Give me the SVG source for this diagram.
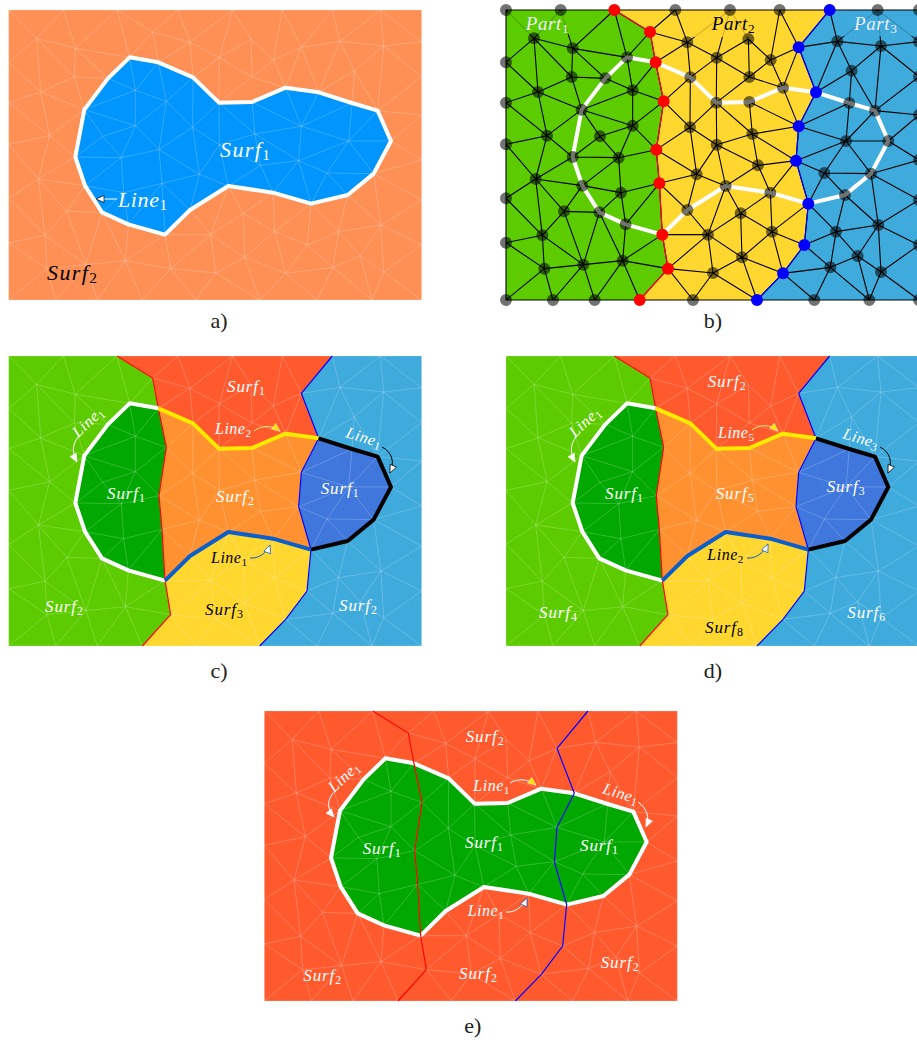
<svg xmlns="http://www.w3.org/2000/svg" width="917" height="1040" viewBox="0 0 917 1040">
<style>
.lm{fill:none;stroke:#fff;stroke-opacity:.28;stroke-width:2.2}
.bm{fill:none;stroke:#000;stroke-width:3.3}
.cgreen{fill:#5ccc00}.cyellow{fill:#ffd72e}.cblue{fill:#3faadc}.cred{fill:#ff5a2e}.corange{fill:#ff9130}.cdk{fill:#00a800}.croyal{fill:#3f77dd}
.il{fill:none;stroke-linejoin:round;stroke-width:12}
.pr{fill:none;stroke:#f00;stroke-width:3.6}
.pb{fill:none;stroke:#00f;stroke-width:3.6}
.gn{fill:none;stroke:#000;stroke-opacity:.55;stroke-width:36;stroke-linecap:round}
.rn{fill:none;stroke:#f00;stroke-width:36;stroke-linecap:round}
.bn{fill:none;stroke:#00f;stroke-width:36;stroke-linecap:round}
text{font-family:"Liberation Serif","DejaVu Serif",serif;font-style:italic}
.big{font-size:22px;letter-spacing:1.4px}.bigl{font-size:22px;letter-spacing:.6px}
.pt{font-size:19px;letter-spacing:.6px}
.s{font-size:17px;letter-spacing:.9px}
.l{font-size:16px;letter-spacing:.5px}
.w{fill:#fff}.wd{fill:#eef}.k{fill:#000}
.sb{font-style:normal;font-size:.7em;letter-spacing:0}
.cap{font-style:normal;font-size:22px;fill:#222;text-anchor:middle}
.ar{fill:none;stroke-width:1}
</style>
<defs>
<marker id="hW" markerUnits="userSpaceOnUse" markerWidth="10" markerHeight="8" refX="8" refY="3.5" orient="auto" overflow="visible"><path d="M0 0L8 3.5L0 7Z" fill="#fff" stroke="#fff" stroke-width=".6"/></marker>
<marker id="hK" markerUnits="userSpaceOnUse" markerWidth="10" markerHeight="8" refX="8" refY="3.5" orient="auto" overflow="visible"><path d="M0 0L8 3.5L0 7Z" fill="#fff" stroke="#000" stroke-width=".7"/></marker>
<marker id="hB" markerUnits="userSpaceOnUse" markerWidth="10" markerHeight="8" refX="8" refY="3.5" orient="auto" overflow="visible"><path d="M0 0L8 3.5L0 7Z" fill="#fff" stroke="#0a5fcc" stroke-width=".7"/></marker>
<marker id="hY" markerUnits="userSpaceOnUse" markerWidth="10" markerHeight="8" refX="8" refY="3.5" orient="auto" overflow="visible"><path d="M0 0L8 3.5L0 7Z" fill="#ffe600" stroke="#fff" stroke-width=".4"/></marker>
<path id="mesh" d="M33 30H1272V900H33ZM117 115L33 30M117 115L197 30M117 115L33 187M117 115L129 276M117 115L233 145M117 115L230 231
M233 145L197 30M233 145L358 30M233 145L396 172M233 145L230 231M233 145L331 235
M396 172L358 30M396 172L465 96M396 172L482 187M396 172L331 235M396 172L413 271
M465 96L358 30M465 96L541 30M465 96L482 187M465 96L577 127
M482 187L577 127M482 187L413 271M482 187L586 232M482 187L506 304
M577 127L541 30M577 127L705 30M577 127L586 232M577 127L665 173
M665 173L705 30M665 173L586 232M665 173L664 308M665 173L760 117M665 173L763 231
M760 117L705 30M760 117L763 231M760 117L827 180
M827 180L854 30M827 180L763 231M827 180L911 142M827 180L864 263
M911 142L854 30M911 142L1004 30M911 142L864 263M911 142L963 277M911 142L1027 124
M1027 124L1004 30M1027 124L1148 30M1027 124L1158 138M1027 124L963 277M1027 124L1070 212
M1158 138L1148 30M1158 138L1070 212M1158 138L1140 332M1158 138L1272 125M1158 138L1272 230M1148 30L1272 125
M230 231L129 276M230 231L331 235M230 231L260 329
M331 235L413 271M331 235L260 329
M129 276L33 187M129 276L33 308M129 276L260 329M129 276L156 407
M413 271L260 329M413 271L506 304M413 271L413 377
M586 232L506 304M586 232L664 308M586 232L585 382
M763 231L664 308M763 231L864 263
M864 263L763 306M864 263L963 277M864 263L911 379
M963 277L1070 212M963 277L1063 309M963 277L911 379
M1070 212L1063 309M1070 212L1140 332
M260 329L413 377M260 329L315 409M260 329L233 471M260 329L156 407
M506 304L413 377M506 304L484 449M506 304L585 382
M664 308L763 306M664 308L585 382M664 308L665 434M664 308L772 402
M763 306L772 402M763 306L911 379
M1063 309L1140 332M1063 309L911 379M1063 309L1053 423
M1140 332L1180 423M1140 332L1053 423M1140 332L1272 230M1140 332L1272 345
M413 377L315 409M413 377L484 449M413 377L371 473
M585 382L484 449M585 382L665 434M585 382L605 523
M156 407L33 308M156 407L33 433M156 407L233 471M156 407L122 537
M315 409L233 471M315 409L371 473
M772 402L665 434M772 402L911 379M772 402L789 496M772 402L903 482
M911 379L903 482M911 379L1053 423
M1180 423L1053 423M1180 423L1128 521M1180 423L1272 345M1180 423L1272 480
M1053 423L903 482M1053 423L988 519M1053 423L1128 521
M484 449L371 473M484 449L493 550M484 449L605 523
M665 434L605 523M665 434L692 558M665 434L789 496
M233 471L371 473M233 471L122 537M233 471L262 557
M371 473L262 557M371 473L378 578
M903 482L789 496M903 482L826 578M903 482L988 519M903 482L940 611
M789 496L692 558M789 496L826 578
M122 537L33 433M122 537L33 595M122 537L262 557M122 537L207 634M122 537L142 706
M262 557L378 578M262 557L207 634M262 557L313 637
M378 578L493 550M378 578L313 637M378 578L392 673
M493 550L605 523M493 550L577 630M493 550L392 673M493 550L502 704
M605 523L692 558M605 523L577 630
M692 558L826 578M692 558L577 630M692 558L737 640M692 558L639 704
M988 519L940 611M988 519L1050 585M988 519L1128 521
M1128 521L1050 585M1128 521L1150 675M1128 521L1272 480M1128 521L1272 600
M826 578L940 611M826 578L737 640M826 578L831 695
M940 611L1050 585M940 611L1023 695M940 611L831 695M940 611L928 735
M1050 585L1023 695M1050 585L1150 675
M207 634L313 637M207 634L142 706M207 634L265 794
M313 637L392 673M313 637L265 794M313 637L383 782
M392 673L502 704M392 673L383 782
M577 630L502 704M577 630L639 704
M737 640L639 704M737 640L831 695M737 640L741 772
M1023 695L1150 675M1023 695L928 735M1023 695L1006 802M1023 695L1088 768
M1150 675L1088 768M1150 675L1158 816M1150 675L1272 600M1150 675L1272 735
M142 706L33 595M142 706L33 728M142 706L265 794M142 706L148 806
M502 704L639 704M502 704L383 782M502 704L519 806
M639 704L519 806M639 704L741 772M639 704L654 819
M831 695L928 735M831 695L741 772M831 695L864 820
M928 735L864 820M928 735L1006 802
M1088 768L1006 802M1088 768L1158 816M1088 768L1123 900
M741 772L654 819M741 772L864 820M741 772L786 900
M383 782L265 794M383 782L519 806M383 782L299 900M383 782L434 900
M265 794L148 806M265 794L174 900M265 794L299 900
M148 806L33 728M148 806L33 900M148 806L174 900
M519 806L654 819M519 806L434 900M519 806L594 900
M654 819L594 900M654 819L786 900
M864 820L1006 802M864 820L786 900M864 820L958 900
M1006 802L958 900M1006 802L1123 900
M1158 816L1123 900M1158 816L1272 735M1158 816L1272 900"/>
<polygon id="blob" points="396 172 482 187 586 232 664 308 763 306 864 263 963 277 1063 309 1140 332 1180 423 1128 521 1050 585 940 611 826 578 692 558 577 630 502 704 392 673 313 637 262 557 233 471 260 329 331 235"/>
<polyline id="redl" points="358 30 465 96 482 187 506 304 484 449 493 550 502 704 519 806 434 900"/>
<polyline id="bluel" points="1004 30 911 142 963 277 911 379 903 482 940 611 928 735 864 820 786 900"/>
<polygon id="pGreen" points="33 30 358 30 465 96 482 187 506 304 484 449 493 550 502 704 519 806 434 900 33 900"/>
<polygon id="pBlue" points="1004 30 911 142 963 277 911 379 903 482 940 611 928 735 864 820 786 900 1272 900 1272 30"/>
<g id="split">
<use href="#pGreen" class="cgreen"/>
<use href="#pBlue" class="cblue"/>
<polygon class="cyellow" points="502 704 577 630 692 558 826 578 940 611 928 735 864 820 786 900 434 900 519 806"/>
<polygon class="cred" points="358 30 1004 30 911 142 963 277 864 263 763 306 664 308 586 232 482 187 465 96"/>
<polygon class="corange" points="482 187 586 232 664 308 763 306 864 263 963 277 911 379 903 482 940 611 826 578 692 558 577 630 502 704 493 550 484 449 506 304"/>
<polygon class="cdk" points="396 172 482 187 506 304 484 449 493 550 502 704 392 673 313 637 262 557 233 471 260 329 331 235"/>
<polygon class="croyal" points="963 277 1063 309 1140 332 1180 423 1128 521 1050 585 940 611 903 482 911 379"/>
<use href="#mesh" class="lm"/>
<use href="#redl" class="pr"/>
<use href="#bluel" class="pb"/>
<polyline class="il" stroke="#fff" points="482 187 396 172 331 235 260 329 233 471 262 557 313 637 392 673 502 704"/>
<polyline class="il" stroke="#ffea00" points="482 187 586 232 664 308 763 306 864 263 963 277"/>
<polyline class="il" stroke="#000" points="963 277 1063 309 1140 332 1180 423 1128 521 1050 585 940 611"/>
<polyline class="il" stroke="#0a5fcc" points="502 704 577 630 692 558 826 578 940 611"/>
</g>
</defs>

<g id="panel-a">
<g transform="translate(-2.33 0) scale(.33333)">
<rect x="33" y="30" width="1239" height="870" fill="#ff9055"/>
<use href="#blob" fill="#0095ff"/>
<use href="#mesh" class="lm"/>
<use href="#blob" class="il" stroke="#fff"/>
</g>
<path class="ar" stroke="#fff" d="M117 199H96" marker-end="url(#hK)"/>
<text class="big w" x="220" y="157">Surf<tspan class="sb" dy="3">1</tspan></text>
<text class="bigl w" x="118" y="207">Line<tspan class="sb" dy="3">1</tspan></text>
<text class="big k" x="47" y="280">Surf<tspan class="sb" dy="3">2</tspan></text>
<text class="cap" x="219" y="328">a)</text>
</g>

<g id="panel-b">
<g transform="translate(495 0) scale(.33333)">
<use href="#pGreen" class="cgreen"/>
<polygon class="cyellow" points="358 30 465 96 482 187 506 304 484 449 493 550 502 704 519 806 434 900 786 900 864 820 928 735 940 611 903 482 911 379 963 277 911 142 1004 30"/>
<use href="#pBlue" class="cblue"/>
<use href="#mesh" class="bm"/>
<rect x="40" y="33" width="190" height="70" class="cgreen" opacity=".82"/>
<rect x="590" y="33" width="215" height="78" class="cyellow" opacity=".82"/>
<rect x="1040" y="33" width="232" height="76" class="cblue" opacity=".82"/>
<use href="#blob" class="il" stroke="#fff"/>
<use href="#redl" class="pr"/>
<use href="#bluel" class="pb"/>
<path class="gn" d="M33 30h0M197 30h0M541 30h0M705 30h0M854 30h0M1148 30h0M1272 30h0M33 187h0M33 308h0M33 433h0M33 595h0M33 728h0M33 900h0M174 900h0M299 900h0M594 900h0M958 900h0M1123 900h0M1272 900h0M1272 125h0M1272 230h0M1272 345h0M1272 480h0M1272 600h0M1272 735h0M117 115h0M233 145h0M396 172h0M577 127h0M665 173h0M760 117h0M827 180h0M1027 124h0M1158 138h0M230 231h0M331 235h0M129 276h0M413 271h0M586 232h0M763 231h0M864 263h0M1070 212h0M260 329h0M664 308h0M763 306h0M1063 309h0M1140 332h0M413 377h0M585 382h0M156 407h0M315 409h0M772 402h0M1180 423h0M1053 423h0M665 434h0M233 471h0M371 473h0M789 496h0M122 537h0M262 557h0M378 578h0M605 523h0M692 558h0M988 519h0M1128 521h0M826 578h0M1050 585h0M207 634h0M313 637h0M392 673h0M577 630h0M737 640h0M1023 695h0M1150 675h0M142 706h0M639 704h0M831 695h0M1088 768h0M741 772h0M383 782h0M265 794h0M148 806h0M654 819h0M1006 802h0M1158 816h0"/>
<path class="rn" d="M358 30h0M465 96h0M482 187h0M506 304h0M484 449h0M493 550h0M502 704h0M519 806h0M434 900h0"/>
<path class="bn" d="M1004 30h0M911 142h0M963 277h0M911 379h0M903 482h0M940 611h0M928 735h0M864 820h0M786 900h0"/>
</g>
<text class="pt wd" x="525.7" y="30">Part<tspan class="sb" dy="3">1</tspan></text>
<text class="pt k" x="711.7" y="30">Part<tspan class="sb" dy="3">2</tspan></text>
<text class="pt wd" x="854" y="30">Part<tspan class="sb" dy="3">3</tspan></text>
<text class="cap" x="713" y="328">b)</text>
</g>

<g id="panel-c">
<use href="#split" transform="translate(-2.33 346) scale(.33333)"/>
<path class="ar" stroke="#fff" d="M78 437C72 445 72 453 77 462" marker-end="url(#hW)"/>
<path class="ar" stroke="#ffee77" d="M254 431C262 425 272 425 280 431" marker-end="url(#hY)"/>
<path class="ar" stroke="#000" d="M382 447C392 452 395 462 390 473" marker-end="url(#hK)"/>
<path class="ar" stroke="#0a5fcc" d="M250 558C258 559 267 553 270 545" marker-end="url(#hB)"/>
<text class="s w" x="227" y="392">Surf<tspan class="sb" dy="3">1</tspan></text>
<text class="l w" x="215" y="434">Line<tspan class="sb" dy="3">2</tspan></text>
<text class="l w" transform="translate(78 438) rotate(-43)">Line<tspan class="sb" dy="3">1</tspan></text>
<text class="l w" transform="translate(345 437) rotate(17)">Line<tspan class="sb" dy="3">1</tspan></text>
<text class="s w" x="107" y="499">Surf<tspan class="sb" dy="3">1</tspan></text>
<text class="s w" x="320.7" y="494">Surf<tspan class="sb" dy="3">1</tspan></text>
<text class="s w" x="216" y="501.7">Surf<tspan class="sb" dy="3">2</tspan></text>
<text class="l k" x="211" y="562.7">Line<tspan class="sb" dy="3">1</tspan></text>
<text class="s k" x="205" y="615">Surf<tspan class="sb" dy="3">3</tspan></text>
<text class="s w" x="45" y="611.7">Surf<tspan class="sb" dy="3">2</tspan></text>
<text class="s w" x="339" y="611">Surf<tspan class="sb" dy="3">2</tspan></text>
<text class="cap" x="219" y="678">c)</text>
</g>

<g id="panel-d">
<use href="#split" transform="translate(495 346) scale(.33333)"/>
<path class="ar" stroke="#fff" d="M576 437C570 445 570 453 575 462" marker-end="url(#hW)"/>
<path class="ar" stroke="#ffee77" d="M752 430C760 424 770 424 778 431" marker-end="url(#hY)"/>
<path class="ar" stroke="#000" d="M880 447C890 452 893 462 888 473" marker-end="url(#hK)"/>
<path class="ar" stroke="#0a5fcc" d="M747 558C755 559 764 553 768 544" marker-end="url(#hB)"/>
<text class="s w" x="707.7" y="387">Surf<tspan class="sb" dy="3">2</tspan></text>
<text class="l w" x="718" y="438">Line<tspan class="sb" dy="3">5</tspan></text>
<text class="l w" transform="translate(575 438) rotate(-43)">Line<tspan class="sb" dy="3">1</tspan></text>
<text class="l w" transform="translate(842 438) rotate(17)">Line<tspan class="sb" dy="3">3</tspan></text>
<text class="s w" x="605" y="499">Surf<tspan class="sb" dy="3">1</tspan></text>
<text class="s w" x="826.7" y="491.7">Surf<tspan class="sb" dy="3">3</tspan></text>
<text class="s w" x="715.7" y="499">Surf<tspan class="sb" dy="3">5</tspan></text>
<text class="l k" x="707.3" y="560">Line<tspan class="sb" dy="3">2</tspan></text>
<text class="s w" x="539" y="618">Surf<tspan class="sb" dy="3">4</tspan></text>
<text class="s k" x="705" y="633">Surf<tspan class="sb" dy="3">8</tspan></text>
<text class="s w" x="847.3" y="617.7">Surf<tspan class="sb" dy="3">6</tspan></text>
<text class="cap" x="713" y="678">d)</text>
</g>

<g id="panel-e">
<g transform="translate(253.33 701) scale(.33333)">
<rect x="33" y="30" width="1239" height="870" fill="#ff5a2e"/>
<use href="#blob" class="cdk"/>
<use href="#mesh" class="lm"/>
<use href="#blob" class="il" stroke="#fff"/>
<use href="#redl" class="pr"/>
<use href="#bluel" class="pb"/>
</g>
<path class="ar" stroke="#fff" d="M333 793C327 801 327 809 334 817" marker-end="url(#hW)"/>
<path class="ar" stroke="#fff" d="M510 783C518 778 528 779 536 785" marker-end="url(#hY)"/>
<path class="ar" stroke="#fff" d="M638 802C647 808 650 818 646 827" marker-end="url(#hW)"/>
<path class="ar" stroke="#fff" d="M506 912C514 913 523 907 527 898" marker-end="url(#hB)"/>
<text class="s w" x="465.7" y="741.7">Surf<tspan class="sb" dy="3">2</tspan></text>
<text class="l w" x="473.3" y="790.7">Line<tspan class="sb" dy="3">1</tspan></text>
<text class="l w" transform="translate(334 793) rotate(-43)">Line<tspan class="sb" dy="3">1</tspan></text>
<text class="l w" transform="translate(601.7 793) rotate(17)">Line<tspan class="sb" dy="3">1</tspan></text>
<text class="s w" x="362.7" y="854">Surf<tspan class="sb" dy="3">1</tspan></text>
<text class="s w" x="465" y="847.7">Surf<tspan class="sb" dy="3">1</tspan></text>
<text class="s w" x="580" y="851">Surf<tspan class="sb" dy="3">1</tspan></text>
<text class="l w" x="467.7" y="916">Line<tspan class="sb" dy="3">1</tspan></text>
<text class="s w" x="303.3" y="981">Surf<tspan class="sb" dy="3">2</tspan></text>
<text class="s w" x="459" y="979.3">Surf<tspan class="sb" dy="3">2</tspan></text>
<text class="s w" x="600.7" y="968.3">Surf<tspan class="sb" dy="3">2</tspan></text>
<text class="cap" x="472.7" y="1033">e)</text>
</g>
</svg>
